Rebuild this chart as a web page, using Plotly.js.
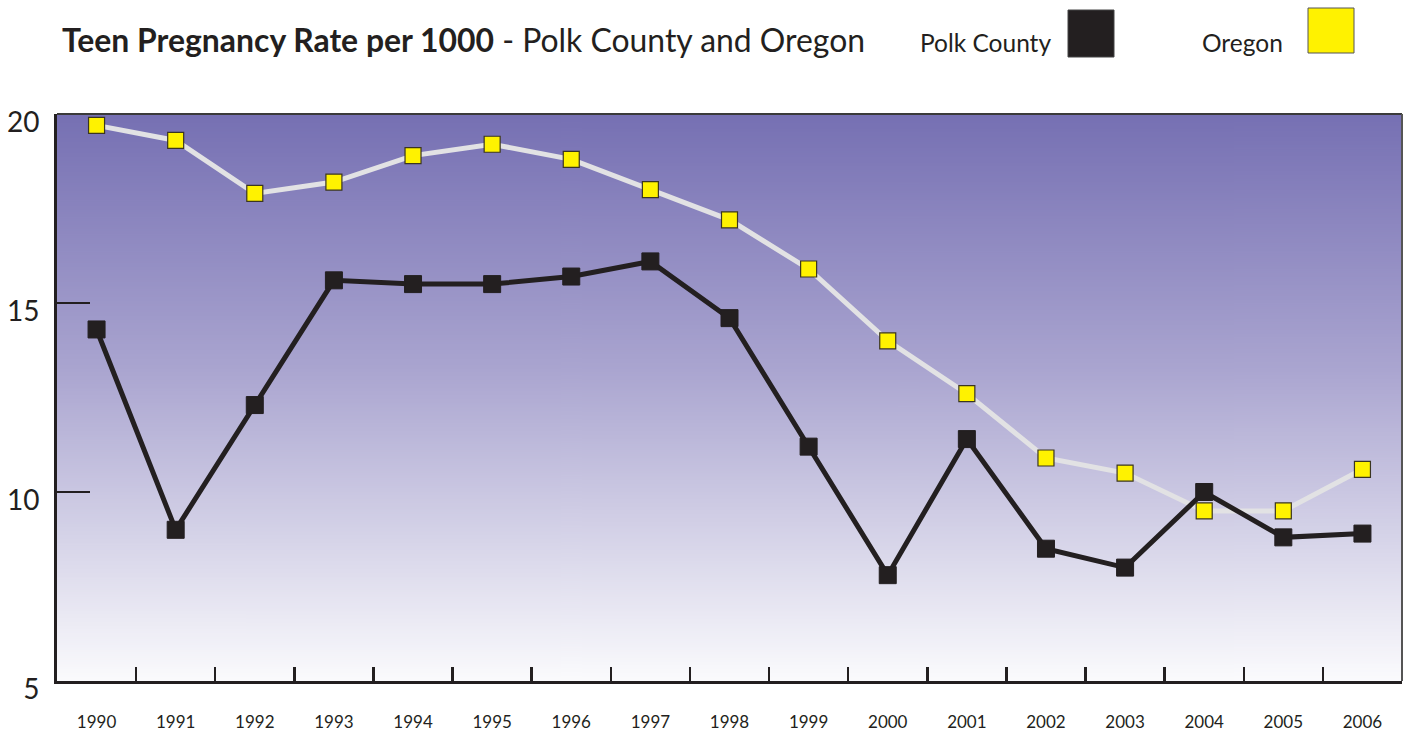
<!DOCTYPE html>
<html>
<head>
<meta charset="utf-8">
<script src="https://cdn.plot.ly/plotly-3.0.1.min.js"></script>
<style>
  html, body { margin: 0; padding: 0; background: #ffffff; }
  #chart { width: 1404px; height: 732px; }
</style>
</head>
<body>
<div id="chart"></div>
<script>
const years = [1990,1991,1992,1993,1994,1995,1996,1997,1998,1999,2000,2001,2002,2003,2004,2005,2006];
const polkCounty = [14.3,9.0,12.3,15.6,15.5,15.5,15.7,16.1,14.6,11.2,7.8,11.4,8.5,8.0,10.0,8.8,8.9];
const oregon = [19.7,19.3,17.9,18.2,18.9,19.2,18.8,18.0,17.2,15.9,14.0,12.6,10.9,10.5,9.5,9.5,10.6];
const yTicks = [5,10,15,20];
const titleBold = "Teen Pregnancy Rate per 1000";
const titleRest = " - Polk County and Oregon";
const seriesNames = ["Polk County", "Oregon"];

const INK = "#231f20";
const FONT = "Lato, 'Open Sans', sans-serif";

// vertical gradient background for the plot area
function gradientURL() {
  const c = document.createElement("canvas");
  c.width = 4; c.height = 600;
  const g = c.getContext("2d");
  const gr = g.createLinearGradient(0, 0, 0, 600);
  gr.addColorStop(0, "#7670b3");
  gr.addColorStop(0.45, "#aaa5d0");
  gr.addColorStop(1, "#fbfbfd");
  g.fillStyle = gr;
  g.fillRect(0, 0, 4, 600);
  return c.toDataURL("image/png");
}

const halfYears = years.slice(0, -1).map(y => y + 0.5);

const traces = [
  {
    x: years, y: oregon, type: "scatter", mode: "lines",
    line: { color: "#e2e2e4", width: 5 },
    hoverinfo: "skip", showlegend: false
  },
  {
    x: years, y: polkCounty, type: "scatter", mode: "lines+markers",
    name: seriesNames[0],
    line: { color: INK, width: 5 },
    marker: { symbol: "square", size: 17, color: INK, line: { color: INK, width: 1 } },
    showlegend: false
  },
  {
    x: years, y: oregon, type: "scatter", mode: "markers",
    name: seriesNames[1],
    marker: { symbol: "square", size: 16, color: "#fff200", line: { color: "#3a3520", width: 1.2 } },
    showlegend: false
  },
  {
    x: halfYears, y: halfYears.map(() => null), xaxis: "x2", type: "scatter",
    mode: "markers", showlegend: false, hoverinfo: "skip"
  }
];

const layout = {
  width: 1404, height: 732,
  margin: { l: 57, r: 2, t: 114, b: 51 },
  paper_bgcolor: "#ffffff",
  plot_bgcolor: "rgba(0,0,0,0)",
  font: { family: FONT, color: INK },
  showlegend: false,
  xaxis: {
    range: [1989.5, 2006.5],
    tickmode: "array", tickvals: years, ticktext: years.map(String),
    ticks: "", showgrid: false, zeroline: false,
    showline: true, linecolor: INK, linewidth: 3,
    tickfont: { family: FONT, size: 17, color: INK },
    ticklabelstandoff: 24
  },
  xaxis2: {
    overlaying: "x", matches: "x", range: [1989.5, 2006.5],
    tickmode: "array", tickvals: halfYears,
    ticks: "inside", ticklen: 14, tickwidth: 2.5, tickcolor: INK,
    showticklabels: false, showgrid: false, zeroline: false, showline: false
  },
  yaxis: {
    range: [5, 20],
    tickmode: "array", tickvals: yTicks, ticktext: yTicks.map(String),
    ticks: "inside", ticklen: 33, tickwidth: 2, tickcolor: INK,
    showgrid: false, zeroline: false,
    showline: true, linecolor: INK, linewidth: 3,
    tickfont: { family: FONT, size: 28, color: INK },
    ticklabelstandoff: 9, ticklabelshift: 8
  },
  images: [{
    source: gradientURL(), xref: "paper", yref: "paper",
    x: 0, y: 1, sizex: 1, sizey: 1, sizing: "stretch",
    xanchor: "left", yanchor: "top", layer: "below"
  }],
  shapes: [
    { type: "line", xref: "paper", yref: "paper", x0: 0, x1: 1, y0: 1, y1: 1,
      line: { color: "#3a3a3a", width: 2 } },
    { type: "line", xref: "paper", yref: "paper", x0: 1, x1: 1, y0: 0, y1: 1,
      line: { color: "#555555", width: 2 } },
    // legend swatches
    { type: "rect", xref: "paper", yref: "paper",
      x0: (1068 - 57) / 1345, x1: (1114 - 57) / 1345,
      y0: (681 - 57) / 567, y1: (681 - 10) / 567,
      fillcolor: INK, line: { color: "#444", width: 1 } },
    { type: "rect", xref: "paper", yref: "paper",
      x0: (1308 - 57) / 1345, x1: (1354 - 57) / 1345,
      y0: (681 - 53) / 567, y1: (681 - 8) / 567,
      fillcolor: "#fff200", line: { color: "#555", width: 1 } }
  ],
  annotations: [
    { xref: "paper", yref: "paper", x: (60 - 57) / 1345, y: (681 - 40) / 567,
      xanchor: "left", yanchor: "middle", showarrow: false,
      text: "<b>" + titleBold + "</b>" + titleRest,
      font: { family: FONT, size: 31.9, color: INK } },
    { xref: "paper", yref: "paper", x: (1053 - 57) / 1345, y: (681 - 42) / 567,
      xanchor: "right", yanchor: "middle", showarrow: false,
      text: seriesNames[0], font: { family: FONT, size: 24.5, color: INK } },
    { xref: "paper", yref: "paper", x: (1285 - 57) / 1345, y: (681 - 42) / 567,
      xanchor: "right", yanchor: "middle", showarrow: false,
      text: seriesNames[1], font: { family: FONT, size: 24.5, color: INK } }
  ]
};

Plotly.newPlot("chart", traces, layout, { displayModeBar: false, staticPlot: true });
</script>
</body>
</html>
